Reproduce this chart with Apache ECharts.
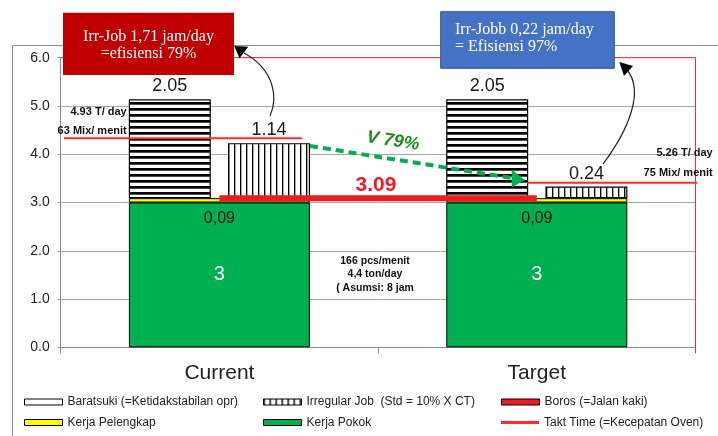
<!DOCTYPE html>
<html>
<head>
<meta charset="utf-8">
<script src="https://cdn.jsdelivr.net/npm/echarts@6/dist/echarts.min.js"></script>
<style>
  html, body { margin: 0; padding: 0; background: #fff; }
  #chart { width: 718px; height: 436px; }
</style>
</head>
<body>
<div id="chart"></div>
<script>
// ---- data ----
const categories = ['Current', 'Target'];
const kerjaPokok = [3, 3];                 // main work
const kerjaPelengkap = [0.09, 0.09];       // supporting work
const baratsuki = [2.05, 2.05];            // operator instability
const irregularJob = [1.14, 0.24];         // irregular job
const boros = [3.09, 3.09];                // waste (walking)
const taktTime = [4.33, 3.41];             // oven speed
const yTicks = [0, 1, 2, 3, 4, 5, 6];

const seriesNames = {
  baratsuki: 'Baratsuki (=Ketidakstabilan opr)',
  irregular: 'Irregular Job  (Std = 10% X CT)',
  boros: 'Boros (=Jalan kaki)',
  pelengkap: 'Kerja Pelengkap',
  pokok: 'Kerja Pokok',
  takt: 'Takt Time (=Kecepatan Oven)'
};

// stacked floor for the upper bars = main + supporting work
const baseTotal = kerjaPokok.map((v, i) => +(v + kerjaPelengkap[i]).toFixed(2));

// horizontal reach of each takt segment on a 0..2 band scale (0-1 Current, 1-2 Target)
const taktSpan = [[0.01, 0.76], [1.47, 2.07]];

// ---- fill patterns ----
function stripePattern(horizontal) {
  const c = document.createElement('canvas');
  c.width = 6; c.height = 6;
  const g = c.getContext('2d');
  g.fillStyle = '#fff'; g.fillRect(0, 0, 6, 6);
  if (horizontal) {
    g.fillStyle = '#000'; g.fillRect(0, 0, 6, 2);
    g.fillStyle = 'rgba(0,0,0,0.7)'; g.fillRect(0, 2, 6, 1);
  } else {
    g.fillStyle = '#000'; g.fillRect(0, 0, 1, 6);
    g.fillStyle = 'rgba(0,0,0,0.35)'; g.fillRect(1, 0, 1, 6);
  }
  return { image: c, repeat: 'repeat' };
}
const hStripes = stripePattern(true);
const vStripes = stripePattern(false);

const SANS = 'Liberation Sans, Arial, sans-serif';
const SERIF = 'Liberation Serif, Times New Roman, serif';
const RED = '#ED1C24';

const chart = echarts.init(document.getElementById('chart'), null, { renderer: 'canvas' });

function legendAt(name, left, top, extra) {
  return Object.assign({
    data: [name], left: left, top: top, padding: 0,
    itemWidth: 38, itemHeight: 6, itemGap: 0,
    textStyle: { fontFamily: SANS, fontSize: 12, color: '#222' },
    selectedMode: false
  }, extra || {});
}

const option = {
  animation: false,
  backgroundColor: '#fff',
  grid: { left: 60.7, right: 22.5, top: 57.7, bottom: 88.7 },
  legend: [
    legendAt(seriesNames.baratsuki, 24, 396, { data: [{ name: seriesNames.baratsuki, icon: 'rect', itemStyle: { color: '#fff', borderColor: '#000', borderWidth: 1 } }] }),
    legendAt(seriesNames.irregular, 263, 396, { data: [{ name: seriesNames.irregular, icon: 'rect', itemStyle: { borderColor: '#000', borderWidth: 1 } }] }),
    legendAt(seriesNames.boros, 501, 396, { data: [{ name: seriesNames.boros, icon: 'rect', itemStyle: { color: RED, borderColor: '#000', borderWidth: 1 } }] }),
    legendAt(seriesNames.pelengkap, 24, 416.5, { data: [{ name: seriesNames.pelengkap, icon: 'rect', itemStyle: { borderColor: '#000', borderWidth: 1 } }] }),
    legendAt(seriesNames.pokok, 263, 416.5, { data: [{ name: seriesNames.pokok, icon: 'rect', itemStyle: { borderColor: '#000', borderWidth: 1 } }] }),
    legendAt(seriesNames.takt, 501, 416.5, { itemHeight: 3, data: [{ name: seriesNames.takt, icon: 'rect', itemStyle: { color: '#FF2A2A' } }] })
  ],
  xAxis: [
    {
      type: 'category', data: categories,
      axisLine: { lineStyle: { color: '#8c8c8c', width: 1 } },
      axisTick: { show: true, length: 6, lineStyle: { color: '#8c8c8c' } },
      axisLabel: { fontFamily: SANS, fontSize: 21, color: '#222', margin: 15 }
    },
    { type: 'category', data: categories, show: false },
    { type: 'value', min: 0, max: 2, show: false }
  ],
  yAxis: {
    type: 'value',
    min: yTicks[0], max: yTicks[yTicks.length - 1], interval: yTicks[1] - yTicks[0],
    axisLine: { show: true, lineStyle: { color: '#8c8c8c' } },
    axisTick: { show: true, length: 3, lineStyle: { color: '#8c8c8c' } },
    splitLine: { lineStyle: { color: '#a6a6a6', width: 1 } },
    axisLabel: { fontFamily: SANS, fontSize: 14, color: '#222', margin: 11, formatter: v => v.toFixed(1) }
  },
  series: [
    {
      name: seriesNames.pokok, type: 'bar', xAxisIndex: 0, stack: 'base', barWidth: 181,
      data: kerjaPokok, z: 2,
      itemStyle: { color: '#00B050', borderColor: '#000', borderWidth: 1 },
      label: { show: true, position: 'inside', color: '#fff', fontFamily: SANS, fontSize: 20, formatter: p => String(p.value) }
    },
    {
      name: seriesNames.pelengkap, type: 'bar', xAxisIndex: 0, stack: 'base', barWidth: 181,
      data: kerjaPelengkap, z: 2,
      itemStyle: { color: '#FFFF00', borderColor: '#000', borderWidth: 1 },
      label: { show: true, position: 'bottom', distance: 8, color: '#111', fontFamily: SANS, fontSize: 16,
        formatter: p => p.value.toFixed(2).replace('.', ',') }
    },
    {
      name: '_floorA', type: 'bar', xAxisIndex: 1, stack: 'bara', barWidth: 82, barGap: '21%',
      data: baseTotal, silent: true, itemStyle: { color: 'rgba(0,0,0,0)' }, emphasis: { disabled: true }
    },
    {
      name: seriesNames.baratsuki, type: 'bar', xAxisIndex: 1, stack: 'bara', barWidth: 82, barGap: '21%',
      data: baratsuki, z: 2,
      itemStyle: { color: hStripes, borderColor: '#000', borderWidth: 1.2 },
      label: { show: true, position: 'top', distance: 4, color: '#1a1a1a', fontFamily: SANS, fontSize: 18, formatter: p => p.value.toFixed(2) }
    },
    {
      name: '_floorB', type: 'bar', xAxisIndex: 1, stack: 'irr', barWidth: 82, barGap: '21%',
      data: baseTotal, silent: true, itemStyle: { color: 'rgba(0,0,0,0)' }, emphasis: { disabled: true }
    },
    {
      name: seriesNames.irregular, type: 'bar', xAxisIndex: 1, stack: 'irr', barWidth: 82, barGap: '21%',
      data: irregularJob, z: 2,
      itemStyle: { color: vStripes, borderColor: '#000', borderWidth: 1.2 },
      label: { show: true, position: 'top', distance: 4, color: '#1a1a1a', fontFamily: SANS, fontSize: 18, formatter: p => p.value.toFixed(2) }
    },
    {
      name: seriesNames.boros, type: 'line', xAxisIndex: 0, data: boros, z: 5,
      symbol: 'none', lineStyle: { color: RED, width: 6 }, itemStyle: { color: RED }
    },
    {
      name: seriesNames.takt, type: 'line', xAxisIndex: 2, z: 5, clip: false,
      data: taktSpan[0].map(x => [x, taktTime[0]]),
      symbol: 'none', lineStyle: { color: '#FF2A2A', width: 2 }, itemStyle: { color: '#FF2A2A' }
    },
    {
      name: seriesNames.takt, type: 'line', xAxisIndex: 2, z: 5, clip: false,
      data: taktSpan[1].map(x => [x, taktTime[1]]),
      symbol: 'none', lineStyle: { color: '#FF2A2A', width: 2 }, itemStyle: { color: '#FF2A2A' }
    }
  ],
  graphic: [
    // outer frame
    { type: 'polyline', z: 0, shape: { points: [[12.5, 440], [12.5, 45.5], [720, 45.5]] },
      style: { stroke: '#8c8c8c', lineWidth: 1, fill: null } },
    // red frame on the plot's top and right
    { type: 'polyline', z: 10, shape: { points: [[60.7, 57.7], [695.5, 57.7], [695.5, 353]] },
      style: { stroke: '#FF2A2A', lineWidth: 1, fill: null } },
    // current-state note
    { type: 'rect', z: 20, shape: { x: 63, y: 12.7, width: 171, height: 62.3 }, style: { fill: '#C00000' } },
    { type: 'text', z: 21, style: { text: 'Irr-Job 1,71 jam/day', x: 148.5, y: 36.7, align: 'center', verticalAlign: 'middle', font: '16px ' + SERIF, fill: '#fff' } },
    { type: 'text', z: 21, style: { text: '=efisiensi 79%', x: 148.5, y: 53.5, align: 'center', verticalAlign: 'middle', font: '16px ' + SERIF, fill: '#fff' } },
    // target-state note
    { type: 'rect', z: 20, shape: { x: 440.7, y: 11.7, width: 173.6, height: 56.6 }, style: { fill: '#4472C4', stroke: '#2F528F', lineWidth: 1 } },
    { type: 'text', z: 21, style: { text: 'Irr-Jobb 0,22 jam/day', x: 455, y: 29.5, align: 'left', verticalAlign: 'middle', font: '16px ' + SERIF, fill: '#fff' } },
    { type: 'text', z: 21, style: { text: '= Efisiensi 97%', x: 455, y: 46.7, align: 'left', verticalAlign: 'middle', font: '16px ' + SERIF, fill: '#fff' } },
    // curved pointers to the notes
    { type: 'bezierCurve', z: 22, shape: { x1: 270, y1: 116, cpx1: 278, cpy1: 98, cpx2: 275, cpy2: 70, x2: 244, y2: 53 },
      style: { stroke: '#222', lineWidth: 1.2, fill: null } },
    { type: 'polygon', z: 22, shape: { points: [[234.3, 46], [248.3, 46.7], [239.5, 58.3]] }, style: { fill: '#000' } },
    { type: 'bezierCurve', z: 22, shape: { x1: 603, y1: 164, cpx1: 630, cpy1: 128, cpx2: 644, cpy2: 90, x2: 627, y2: 70 },
      style: { stroke: '#222', lineWidth: 1.2, fill: null } },
    { type: 'polygon', z: 22, shape: { points: [[619.3, 62], [633, 66], [624, 76]] }, style: { fill: '#000' } },
    // improvement arrow
    { type: 'line', z: 22, shape: { x1: 310, y1: 146, x2: 513, y2: 178.2 },
      style: { stroke: '#00B050', lineWidth: 4, lineDash: [8, 5] } },
    { type: 'polygon', z: 22, shape: { points: [[525, 180], [511.7, 169.5], [511.7, 187.5]] }, style: { fill: '#00B050' } },
    { type: 'text', z: 22, x: 393, y: 141, rotation: -0.152,
      style: { text: 'V 79%', x: 0, y: 0, align: 'center', verticalAlign: 'middle', font: 'italic bold 18px ' + SANS, fill: '#1E8F1E' } },
    // waste total
    { type: 'text', z: 22, style: { text: boros[0].toFixed(2), x: 376, y: 185.5, align: 'center', verticalAlign: 'middle', font: 'bold 21px ' + SANS, fill: RED } },
    // takt annotations
    { type: 'text', z: 22, style: { text: '4.93 T/ day', x: 126.7, y: 111.7, align: 'right', verticalAlign: 'middle', font: 'bold 11px ' + SANS, fill: '#111' } },
    { type: 'text', z: 22, style: { text: '63 Mix/ menit', x: 126.7, y: 130.7, align: 'right', verticalAlign: 'middle', font: 'bold 11px ' + SANS, fill: '#111' } },
    { type: 'text', z: 22, style: { text: '5.26 T/ day', x: 712.7, y: 152.7, align: 'right', verticalAlign: 'middle', font: 'bold 11px ' + SANS, fill: '#111' } },
    { type: 'text', z: 22, style: { text: '75 Mix/ menit', x: 712.7, y: 172.7, align: 'right', verticalAlign: 'middle', font: 'bold 11px ' + SANS, fill: '#111' } },
    // capacity note
    { type: 'text', z: 22, style: { text: '166 pcs/menit', x: 375, y: 261, align: 'center', verticalAlign: 'middle', font: 'bold 10.5px ' + SANS, fill: '#111' } },
    { type: 'text', z: 22, style: { text: '4,4 ton/day', x: 375, y: 274.5, align: 'center', verticalAlign: 'middle', font: 'bold 10.5px ' + SANS, fill: '#111' } },
    { type: 'text', z: 22, style: { text: '( Asumsi: 8 jam', x: 375, y: 288.5, align: 'center', verticalAlign: 'middle', font: 'bold 10.5px ' + SANS, fill: '#111' } }
  ]
};

chart.setOption(option);
</script>
</body>
</html>
